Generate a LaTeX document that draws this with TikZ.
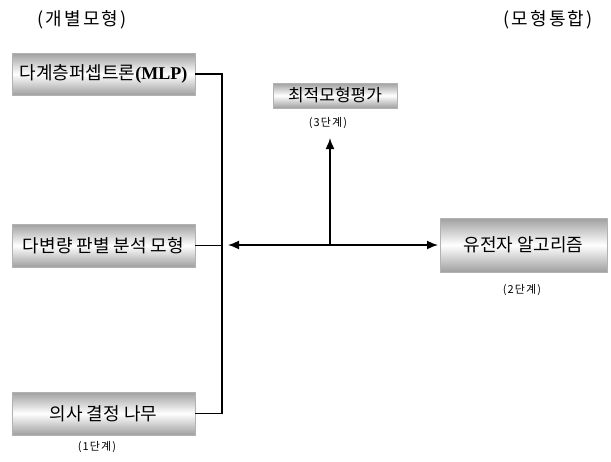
\documentclass[tikz,border=0pt]{standalone}
\usepackage{fontspec}
\newfontfamily\kr{Noto Sans CJK KR}
\newfontfamily\krs[LetterSpace=12]{Noto Sans CJK KR}
\newfontfamily\krl[LetterSpace=10]{Noto Sans CJK KR}
\newfontfamily\serifb{Liberation Serif}
\usetikzlibrary{arrows.meta}
\begin{document}
\begin{tikzpicture}[x=1pt,y=-1pt,
  mbox/.style={draw=gray!60, line width=0.4pt, top color=gray!75, bottom color=gray!75, middle color=white, inner sep=0pt, font=\kr\fontsize{18}{18}\selectfont},
  conn/.style={line width=1.6pt},
  arr/.style={line width=1.6pt, -{Latex[length=11pt,width=9pt]}},
  lbl/.style={font=\krl\fontsize{11}{11}\selectfont, inner sep=0pt},
  ttl/.style={font=\krs\fontsize{18}{18}\selectfont, inner sep=0pt}]
\useasboundingbox (0,0) rectangle (611,461);
\node[ttl] (t1) at (82,20) {(개별모형)};
\node[ttl] (t2) at (548,20) {(모형통합)};
\node[mbox, minimum width=183pt, minimum height=42pt] (mlp) at (103.5,74) {다계층퍼셉트론{\serifb\bfseries(MLP)}};
\node[mbox, minimum width=183pt, minimum height=43pt] (mda) at (103.5,245.5) {다변량 판별 분석 모형};
\node[mbox, minimum width=183pt, minimum height=43pt] (dt) at (103.5,413.5) {의사 결정 나무};
\node[mbox, minimum width=124pt, minimum height=25pt, font=\kr\fontsize{17}{17}\selectfont] (opt) at (335,95.5) {최적모형평가};
\node[mbox, minimum width=167pt, minimum height=54pt] (ga) at (523.5,245) {유전자 알고리즘};
\node[lbl] (s1) at (97,447) {(1단계)};
\node[lbl] (s2) at (522,290) {(2단계)};
\node[lbl] (s3) at (328,123) {(3단계)};
\coordinate (top) at (222,74);
\coordinate (bot) at (222,413.5);
\coordinate (left) at (228,245);
\coordinate (mid) at (330,245);
\coordinate (up) at (330,138);
\coordinate (right) at (438,245);
\draw[conn] (mlp.east) -- (top) -- (bot) -- (dt.east);
\draw[conn] (mda.east) -- (222,245.5);
\draw[arr] (mid) -- (left);
\draw[arr] (mid) -- (right);
\draw[arr] (mid) -- (up);
\end{tikzpicture}
\end{document}
